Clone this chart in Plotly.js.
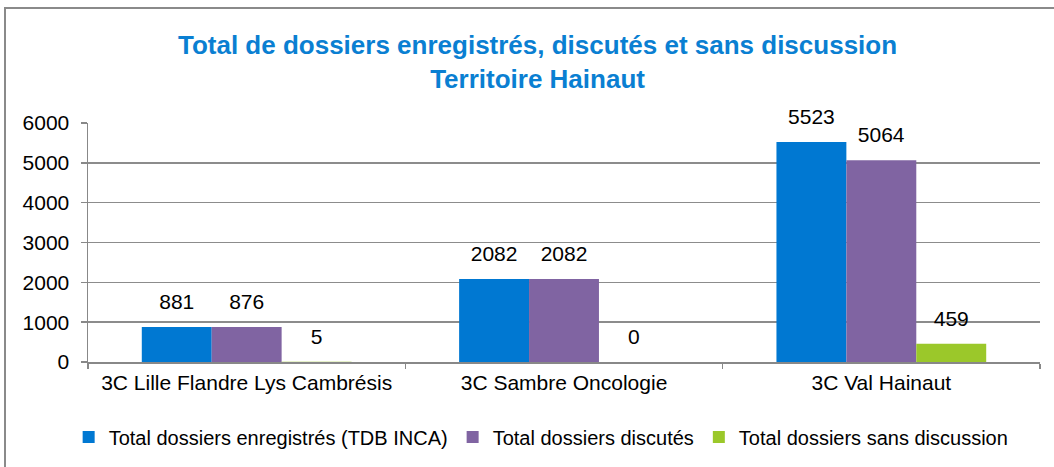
<!DOCTYPE html>
<html>
<head>
<meta charset="utf-8">
<script src="https://cdn.plot.ly/plotly-3.0.1.min.js"></script>
<style>
html,body{margin:0;padding:0;background:#fff;overflow:hidden;}
#frame{position:absolute;left:4px;top:7px;width:1200px;height:600px;border-left:2px solid #8a8a8a;border-top:2px solid #8a8a8a;box-sizing:border-box;pointer-events:none;z-index:5;}
#chart{position:absolute;left:0;top:0;width:1054px;height:467px;}
</style>
</head>
<body>
<div id="chart"></div>
<div id="frame"></div>
<script>
const categories = ["3C Lille Flandre Lys Cambrésis", "3C Sambre Oncologie", "3C Val Hainaut"];
const seriesNames = ["Total dossiers enregistrés (TDB INCA)", "Total dossiers discutés", "Total dossiers sans discussion"];
const enregistres = [881, 2082, 5523];
const discutes = [876, 2082, 5064];
const sansDiscussion = [5, 0, 459];
const yTicks = [0, 1000, 2000, 3000, 4000, 5000, 6000];

const colors = ["#0078d2", "#8064a2", "#9bc82a"];
const seriesValues = [enregistres, discutes, sansDiscussion];
const FONT = 'Liberation Sans, Arial, sans-serif';

// number on top, small spacer line below it to lift the label off the bar
function label(v){ return '<span style="font-size:21px">' + v + '</span><br> '; }

const traces = seriesValues.map((vals, i) => ({
  type: 'bar',
  name: seriesNames[i],
  x: categories,
  y: vals,
  marker: {color: colors[i]},
  text: vals.map(label),
  textposition: 'outside',
  constraintext: 'none',
  textfont: {family: FONT, size: 10, color: '#000'},
  cliponaxis: false,
  hoverinfo: 'x+y'
}));

const layout = {
  width: 1054, height: 467,
  margin: {l: 88, r: 14, t: 123, b: 105, autoexpand: false},
  paper_bgcolor: '#fff', plot_bgcolor: '#fff',
  font: {family: FONT, size: 21, color: '#000'},
  title: {
    text: '<b>Total de dossiers enregistrés, discutés et sans discussion<br>Territoire Hainaut</b>',
    font: {family: FONT, size: 26, color: '#0a7fd2'},
    x: 0.51, xanchor: 'center', xref: 'container',
    y: 0.885, yanchor: 'top', yref: 'container'
  },
  barmode: 'group',
  bargap: 0.339,
  bargroupgap: 0,
  xaxis: {
    type: 'category',
    showgrid: false,
    showline: true, linecolor: '#888', linewidth: 1.5,
    ticks: 'outside', tickson: 'boundaries', ticklen: 5, tickcolor: '#888', tickwidth: 1.5,
    tickfont: {family: FONT, size: 21, color: '#000'},
    ticklabelstandoff: 1,
    fixedrange: true
  },
  yaxis: {
    range: [0, 6000],
    tickvals: yTicks,
    ticktext: yTicks.map(String),
    showgrid: true, gridcolor: '#8c8c8c', gridwidth: 1.5,
    showline: true, linecolor: '#888', linewidth: 1.5,
    ticks: 'outside', ticklen: 6, tickcolor: '#888', tickwidth: 1.5,
    tickfont: {family: FONT, size: 21, color: '#000'},
    ticklabelstandoff: 7,
    zeroline: false,
    fixedrange: true
  },
  legend: {
    orientation: 'h', x: 0.476, xanchor: 'center',
    y: 0.064, yanchor: 'middle', yref: 'container',
    font: {family: FONT, size: 20, color: '#000'},
    itemwidth: 30, tracegroupgap: 0
  },
  showlegend: true
};

Plotly.newPlot('chart', traces, layout, {displayModeBar: false, staticPlot: true});
</script>
</body>
</html>
